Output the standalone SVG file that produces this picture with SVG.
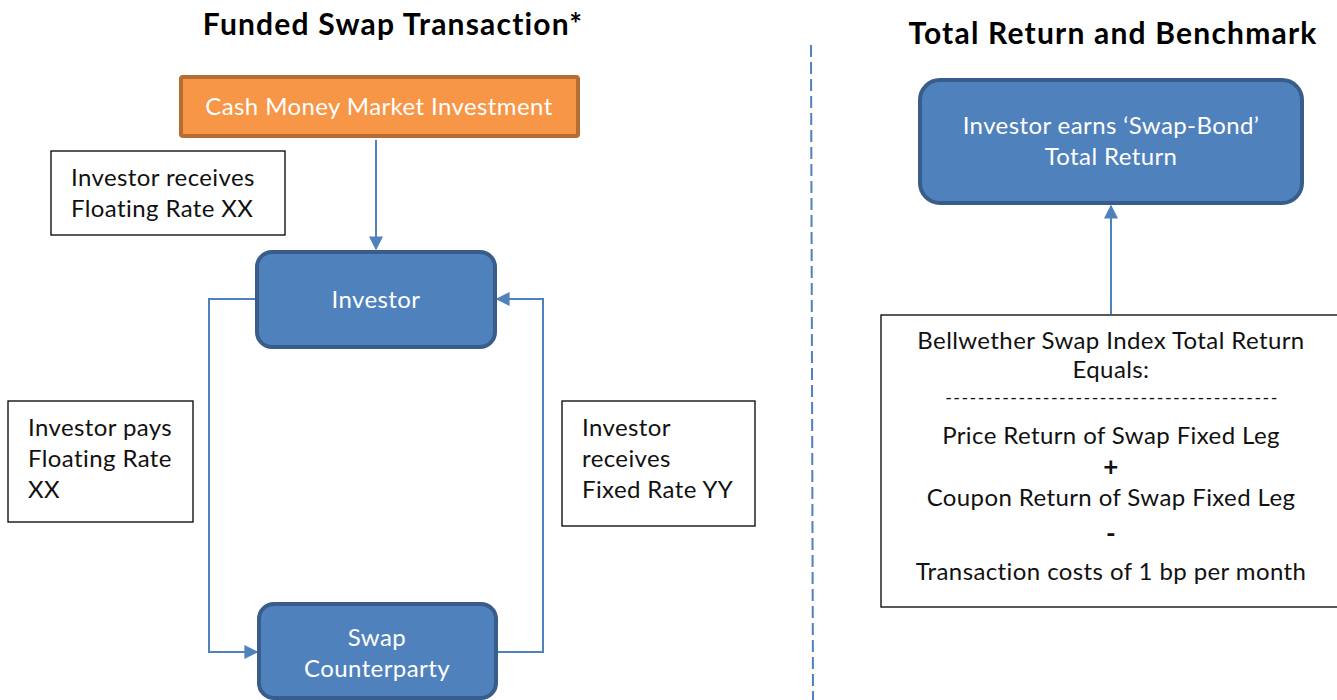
<svg xmlns="http://www.w3.org/2000/svg" width="1337" height="700" viewBox="0 0 1337 700">
<style>
text{font-family:Lato,"Noto Sans","DejaVu Sans",sans-serif;}
.title{font-size:30px;font-weight:bold;fill:#000;text-anchor:middle;letter-spacing:1.2px;}
.wt{font-size:24px;fill:#fff;text-anchor:middle;letter-spacing:0.4px;}
.bt{font-size:24px;fill:#111;letter-spacing:0.4px;}
.btc{font-size:24px;fill:#111;text-anchor:middle;letter-spacing:0.4px;}
.dash{font-size:18px;letter-spacing:1.45px;}
.op{font-weight:bold;font-size:26px;}
.blue{fill:#4F81BD;stroke:#385D8A;stroke-width:4;}
.lbl{fill:#fff;stroke:#000;stroke-width:1.3;}
.conn{fill:none;stroke:#4F81BD;stroke-width:2;}
</style>
<defs>
<marker id="ah2" viewBox="0 0 10 10" refX="9" refY="5" markerWidth="14" markerHeight="14" markerUnits="userSpaceOnUse" orient="auto">
<path d="M0,0 L10,5 L0,10 z" fill="#4F81BD"/>
</marker>
</defs>
<rect width="1337" height="700" fill="#fff"/>
<text class="title" x="393" y="35">Funded Swap Transaction*</text>
<text class="title" x="1113" y="44">Total Return and Benchmark</text>
<line x1="811" y1="45" x2="813" y2="700" stroke="#4F81BD" stroke-width="2" stroke-dasharray="12,5"/>
<g id="connectors">
<line class="conn" x1="376" y1="140" x2="376" y2="249" marker-end="url(#ah2)"/>
<polyline class="conn" points="257,299 209,299 209,652 257,652" marker-end="url(#ah2)"/>
<polyline class="conn" points="497,652 543,652 543,299 497,299" marker-end="url(#ah2)"/>
<line class="conn" x1="1111" y1="314" x2="1111" y2="206" marker-end="url(#ah2)"/>
</g>
<g id="cash">
<rect x="181" y="77" width="397" height="59" rx="2" fill="#F79646" stroke="#B66D31" stroke-width="4"/>
<text class="wt" x="379" y="115">Cash Money Market Investment</text>
</g>
<g id="lbl-receives-floating">
<rect class="lbl" x="51" y="151" width="234" height="84"/>
<text class="bt" x="71" y="186">Investor receives</text>
<text class="bt" x="71" y="217">Floating Rate XX</text>
</g>
<g id="investor">
<rect class="blue" x="257" y="252" width="238" height="95" rx="15"/>
<text class="wt" x="376" y="308">Investor</text>
</g>
<g id="lbl-pays-floating">
<rect class="lbl" x="8" y="401" width="185" height="121"/>
<text class="bt" x="28" y="436">Investor pays</text>
<text class="bt" x="28" y="467">Floating Rate</text>
<text class="bt" x="28" y="498">XX</text>
</g>
<g id="lbl-receives-fixed">
<rect class="lbl" x="562" y="401" width="193" height="125"/>
<text class="bt" x="582" y="436">Investor</text>
<text class="bt" x="582" y="467">receives</text>
<text class="bt" x="582" y="498">Fixed Rate YY</text>
</g>
<g id="swap-counterparty">
<rect class="blue" x="259" y="604" width="237" height="94" rx="15"/>
<text class="wt" x="377" y="646">Swap</text>
<text class="wt" x="377" y="677">Counterparty</text>
</g>
<g id="swap-bond">
<rect class="blue" x="920" y="80" width="382" height="123" rx="20"/>
<text class="wt" x="1111" y="134">Investor earns ‘Swap-Bond’</text>
<text class="wt" x="1111" y="165">Total Return</text>
</g>
<g id="benchmark">
<rect class="lbl" x="881" y="315" width="470" height="292"/>
<text class="btc" x="1111" y="349">Bellwether Swap Index Total Return</text>
<text class="btc" x="1111" y="378">Equals:</text>
<text class="btc dash" x="1112" y="404">-----------------------------------------</text>
<text class="btc" x="1111" y="444">Price Return of Swap Fixed Leg</text>
<text class="btc op" x="1111" y="476">+</text>
<text class="btc op" x="1111" y="543">-</text>
<text class="btc" x="1111" y="506">Coupon Return of Swap Fixed Leg</text>
<text class="btc" x="1111" y="580">Transaction costs of 1 bp per month</text>
</g>
</svg>
